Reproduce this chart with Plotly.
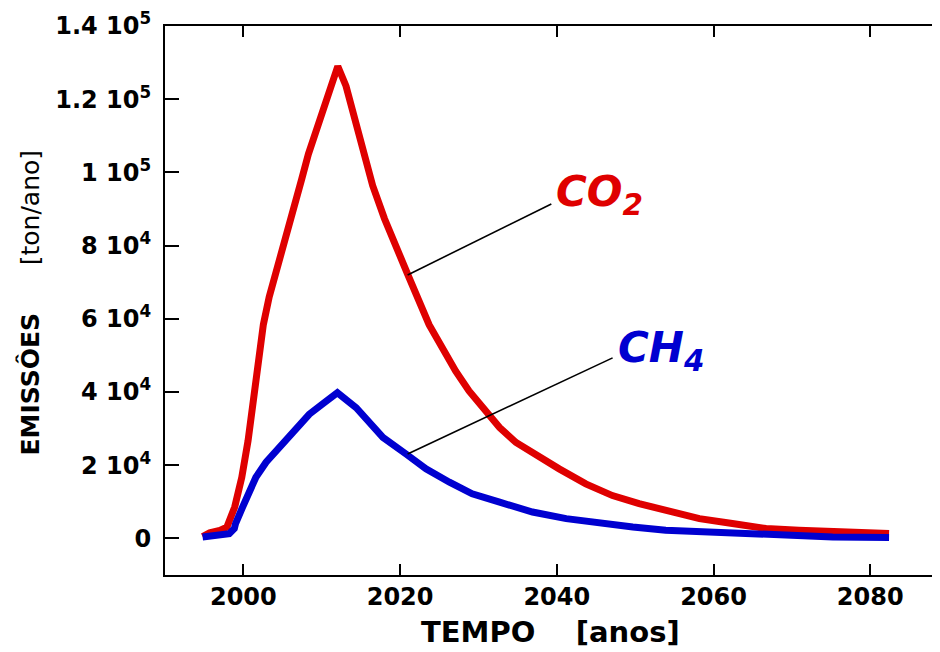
import plotly.graph_objects as go

# ---------------- data ----------------
co2_years = [1994.8, 1995.7, 1997.0, 1997.9, 1998.9, 1999.8, 2000.6, 2001.3, 2001.9,
             2002.55, 2003.3, 2004.25, 2005.3, 2006.4, 2007.45, 2008.3, 2009.35, 2010.4,
             2011.5, 2012.05, 2013.1, 2014.2, 2015.2, 2016.5, 2018.0, 2019.5, 2021.0,
             2023.7, 2025.4, 2027.1, 2028.8, 2031.0, 2032.7, 2034.8, 2037.8, 2040.3,
             2043.7, 2047.1, 2050.5, 2052.9, 2055.5, 2058.2, 2062.4, 2066.7, 2070.9,
             2075.2, 2082.4]
co2_values = [500, 1500, 2200, 3100, 8600, 16700, 26700, 37600, 49300,
              58400, 66000, 73800, 81900, 90100, 98200, 105000, 111400, 118600,
              124500, 129000, 123600, 114500, 105500, 96400, 87400, 79200, 72000,
              58400, 52000, 45700, 40300, 34800, 30300, 26200, 22100, 19000,
              14900, 11700, 9500, 8100, 6500, 5400, 4050, 2700, 2200,
              1750, 1350]

ch4_years = [1994.8, 1996.5, 1998.2, 1998.85, 1999.0, 1999.9, 2001.6, 2002.9, 2004.6,
             2006.7, 2008.4, 2010.1, 2012.0, 2014.4, 2017.8, 2020.8, 2023.3, 2026.3,
             2029.2, 2032.7, 2036.9, 2041.2, 2045.4, 2049.7, 2053.9, 2058.2, 2062.4,
             2066.7, 2075.2, 2082.4]
ch4_values = [400, 870, 1300, 2700, 4000, 8560, 16700, 20800, 24900,
              30300, 33900, 36700, 39800, 35700, 27600, 23000, 19000, 15350,
              12200, 9900, 7200, 5400, 4050, 3130, 2230, 1770, 1330,
              870, 400, 250]

x_tick_vals = [2000, 2020, 2040, 2060, 2080]
x_tick_text = ["2000", "2020", "2040", "2060", "2080"]
y_tick_vals = [0, 20000, 40000, 60000, 80000, 100000, 120000, 140000]
y_tick_text = ["0", "2 10<sup>4</sup>", "4 10<sup>4</sup>", "6 10<sup>4</sup>",
               "8 10<sup>4</sup>", "1 10<sup>5</sup>", "1.2 10<sup>5</sup>",
               "1.4 10<sup>5</sup>"]

RED = "#df0000"
BLUE = "#0000d0"
FONT = "DejaVu Sans"
X_RANGE = [1990, 2088.9]
Y_RANGE = [-10000, 140000]

fig = go.Figure()
fig.add_trace(go.Scatter(x=co2_years, y=co2_values, mode="lines",
                         line=dict(color=RED, width=7), showlegend=False))
fig.add_trace(go.Scatter(x=ch4_years, y=ch4_values, mode="lines",
                         line=dict(color=BLUE, width=7), showlegend=False))
# helper trace so that the right-hand tick axis is drawn
fig.add_trace(go.Scatter(x=[None], y=[None], yaxis="y2", showlegend=False,
                         hoverinfo="skip"))

# leader lines
fig.add_shape(type="line", xref="x", yref="y", x0=2020.96, y0=71984, x1=2039.3, y1=91359,
              line=dict(color="black", width=1.6))
fig.add_shape(type="line", xref="x", yref="y", x0=2020.96, y0=23070, x1=2047.12, y1=49320,
              line=dict(color="black", width=1.6))

fig.add_annotation(x=2039.94, y=101400, xref="x", yref="y", xanchor="left", yanchor="top",
                   xshift=-2, yshift=2,
                   text="CO<sub>2</sub>", showarrow=False,
                   font=dict(family=FONT, size=42, color=RED, weight="bold", style="italic"))
fig.add_annotation(x=2047.76, y=58940, xref="x", yref="y", xanchor="left", yanchor="top",
                   xshift=-2, yshift=2,
                   text="CH<sub>4</sub>", showarrow=False,
                   font=dict(family=FONT, size=42, color=BLUE, weight="bold", style="italic"))

# axis titles
fig.add_annotation(x=0.4968, y=-0.1042, xref="paper", yref="paper",
                   xanchor="center", yanchor="middle", showarrow=False,
                   text="TEMPO\u00a0\u00a0\u00a0\u00a0[anos]",
                   font=dict(family=FONT, size=29, color="black", weight="bold"))
fig.add_annotation(x=-0.1742, y=0.4964, xref="paper", yref="paper",
                   xanchor="center", yanchor="middle", showarrow=False, textangle=-90,
                   text="<b>EMISSÔES</b>\u00a0\u00a0\u00a0\u00a0\u00a0\u00a0[ton/ano]",
                   font=dict(family=FONT, size=25, color="black"))

tickfont = dict(family=FONT, size=24, color="black", weight="bold")
fig.update_layout(
    width=932, height=644,
    margin=dict(l=157, r=0, t=15, b=77),
    paper_bgcolor="white", plot_bgcolor="white",
    xaxis=dict(range=X_RANGE, tickvals=x_tick_vals, ticktext=x_tick_text,
               showgrid=False, zeroline=False, showline=True, linecolor="black",
               linewidth=2, mirror="ticks", ticks="inside", ticklen=11, tickwidth=2,
               tickcolor="black", tickfont=tickfont, ticklabelstandoff=-1,
               ticklabeloverflow="allow"),
    yaxis=dict(range=Y_RANGE, tickvals=y_tick_vals, ticktext=y_tick_text,
               showgrid=False, zeroline=False, showline=True, linecolor="black",
               linewidth=2, mirror=False, ticks="inside", ticklen=14, tickwidth=2,
               tickcolor="black", tickfont=tickfont, ticklabelstandoff=7,
               ticklabeloverflow="allow"),
    yaxis2=dict(range=Y_RANGE, tickvals=y_tick_vals, overlaying="y", side="right",
                showgrid=False, zeroline=False, showline=False, ticks="inside",
                ticklen=5, tickwidth=2, tickcolor="black", showticklabels=False),
)

fig.write_html("out.html")
